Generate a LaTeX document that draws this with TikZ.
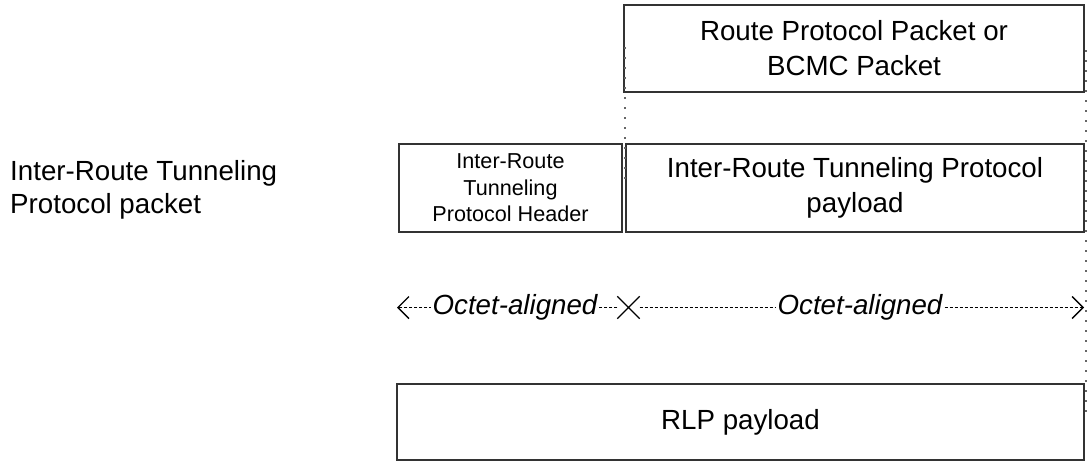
\documentclass[tikz,border=0pt]{standalone}
\usepackage{fontspec}
\setmainfont{Liberation Sans}
\usetikzlibrary{arrows.meta,shapes.misc}

\tikzset{
  box/.style={draw=black!80, line width=1.4pt, inner sep=0pt, align=center,
              font=\fontsize{27.7}{35}\selectfont},
  smallbox/.style={box, font=\fontsize{21.6}{26.5}\selectfont},
  guide/.style={draw=black!60, line width=1.5pt, dash pattern=on 1.5pt off 8.5pt},
  span/.style={draw=black, line width=1.3pt, dash pattern=on 3pt off 2pt,
               -{Straight Barb[length=11pt, width=22pt, line width=1.4pt]}},
  spanlabel/.style={fill=white, inner xsep=2pt, inner ysep=1pt,
                    font=\fontsize{27.7}{33}\selectfont\itshape},
  xmark/.style={cross out, draw=black, line width=1.3pt, minimum width=21pt,
                minimum height=21pt, inner sep=0pt},
}

\begin{document}
\begin{tikzpicture}[x=1pt, y=-1pt]
  \useasboundingbox (0,0) rectangle (1087,461);

  % packet layers
  \node[box, minimum width=460pt, minimum height=87pt] (route) at (854,48.5)
    {Route Protocol Packet or\\BCMC Packet};
  \node[smallbox, minimum width=223pt, minimum height=88pt] (hdr) at (510.5,188)
    {Inter-Route\\Tunneling\\Protocol Header};
  \node[box, minimum width=458pt, minimum height=88pt] (pay) at (855,188)
    {Inter-Route Tunneling Protocol\\payload};
  \node[box, minimum width=687pt, minimum height=76pt] (rlp) at (740.5,422)
    {RLP payload};

  % row label
  \node[anchor=west, align=left, inner sep=0pt,
        font=\fontsize{27.7}{33.5}\selectfont] (lbl) at (10,190)
    {Inter-Route Tunneling\\Protocol packet};

  % alignment guides
  \coordinate (g1a) at (625,47);
  \coordinate (g1b) at (625,182);
  \coordinate (g2a) at (1086,50);
  \coordinate (g2b) at (1086,416);
  \draw[guide] (g1a) -- (g1b);
  \draw[guide] (g2a) -- (g2b);

  % octet alignment spans
  \node[xmark] (mid) at (628.5,307.5) {};
  \coordinate (lend) at (397,307.5);
  \coordinate (rend) at (1084,307.5);
  \draw[span] (mid) -- (lend);
  \draw[span] (mid) -- (rend);
  \node[spanlabel] (oa1) at (515,307) {Octet-aligned};
  \node[spanlabel] (oa2) at (860,307) {Octet-aligned};
\end{tikzpicture}
\end{document}
